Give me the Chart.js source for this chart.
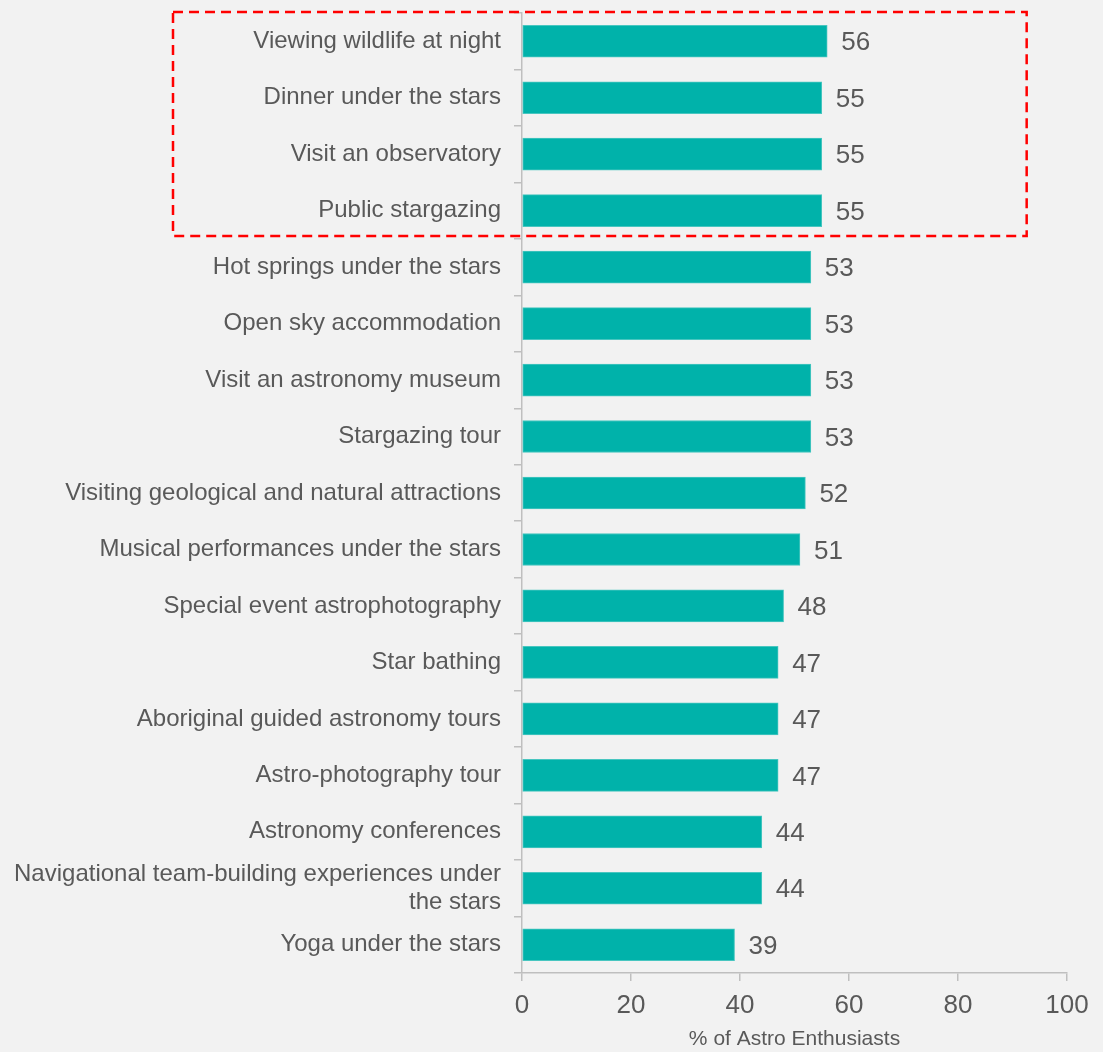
<!DOCTYPE html>
<html>
<head>
<meta charset="utf-8">
<title>Astro tourism activities</title>
<script src="https://cdn.jsdelivr.net/npm/chart.js@4.4.1/dist/chart.umd.min.js"></script>
<style>
  html, body { margin: 0; padding: 0; background: #f2f2f2; }
  #wrap { width: 1103px; height: 1052px; }
</style>
</head>
<body>
<div id="wrap"><canvas id="activityChart" width="1103" height="1052"></canvas></div>
<script>
const activities = [
  "Viewing wildlife at night",
  "Dinner under the stars",
  "Visit an observatory",
  "Public stargazing",
  "Hot springs under the stars",
  "Open sky accommodation",
  "Visit an astronomy museum",
  "Stargazing tour",
  "Visiting geological and natural attractions",
  "Musical performances under the stars",
  "Special event astrophotography",
  "Star bathing",
  "Aboriginal guided astronomy tours",
  "Astro-photography tour",
  "Astronomy conferences",
  ["Navigational team-building experiences under", "the stars"],
  "Yoga under the stars"
];
const shareOfEnthusiasts = [56, 55, 55, 55, 53, 53, 53, 53, 52, 51, 48, 47, 47, 47, 44, 44, 39];
const xTicks = [0, 20, 40, 60, 80, 100];

const textColor = "#595959";
const axisColor = "#bfbfbf";
const fontFamily = "'Liberation Sans', Arial, sans-serif";

// value labels to the right of each bar
const valueLabels = {
  id: "valueLabels",
  afterDatasetsDraw(chart) {
    const ctx = chart.ctx;
    const meta = chart.getDatasetMeta(0);
    ctx.save();
    ctx.font = "26px " + fontFamily;
    ctx.fillStyle = textColor;
    ctx.textAlign = "left";
    ctx.textBaseline = "middle";
    meta.data.forEach((bar, i) => {
      ctx.fillText(shareOfEnthusiasts[i], bar.x + 14, bar.y + 2);
    });
    ctx.restore();
  }
};

// dashed red box round the top four activities
const topBox = {
  id: "topBox",
  afterDraw(chart) {
    const ctx = chart.ctx;
    const x = chart.scales.x;
    const y = chart.scales.y;
    const top = y.getPixelForValue(-0.5) - 1;
    const bottom = y.getPixelForValue(3.5) - 3;
    const left = 173;
    const right = x.getPixelForValue(92.6);
    ctx.save();
    ctx.strokeStyle = "#ff0000";
    ctx.lineWidth = 2.5;
    ctx.setLineDash([10, 6]);
    ctx.strokeRect(left, top, right - left, bottom - top);
    ctx.restore();
  }
};

const ctx = document.getElementById("activityChart").getContext("2d");
const activityChart = new Chart(ctx, {
  type: "bar",
  data: {
    labels: activities,
    datasets: [
      {
        data: shareOfEnthusiasts,
        backgroundColor: "#00b2aa",
        borderColor: "#48c6c0",
        borderWidth: 1,
        borderSkipped: false,
        barThickness: 32,
      },
    ],
  },
  options: {
    indexAxis: "y",
    responsive: false,
    animation: false,
    layout: {
      padding: { top: 13, right: 36, left: 0, bottom: 0 },
    },
    scales: {
      x: {
        min: 0,
        max: 100,
        afterBuildTicks(scale) {
          scale.ticks = xTicks.map((v) => ({ value: v }));
        },
        afterFit(scale) {
          scale.height = 79;
        },
        border: { display: true, color: axisColor, width: 1.5 },
        grid: {
          drawOnChartArea: false,
          drawTicks: true,
          tickLength: 8,
          color: axisColor,
          lineWidth: 1.5,
        },
        ticks: {
          color: textColor,
          font: { family: fontFamily, size: 26 },
          padding: 9,
        },
        title: {
          display: true,
          text: "% of Astro Enthusiasts",
          color: textColor,
          font: { family: fontFamily, size: 21 },
          padding: { top: 4, bottom: 0 },
        },
      },
      y: {
        afterFit(scale) {
          scale.width = 522;
          // labels sit inside their bands, no extra room needed above/below
          scale.paddingTop = 0;
          scale.paddingBottom = 0;
        },
        border: { display: true, color: axisColor, width: 1.5 },
        grid: {
          offset: true,
          drawOnChartArea: false,
          tickLength: 8,
          color: axisColor,
          lineWidth: 1.5,
        },
        ticks: {
          autoSkip: false,
          color: textColor,
          font: { family: fontFamily, size: 24 },
          padding: 13,
        },
      },
    },
    plugins: {
      legend: { display: false },
      tooltip: { enabled: false },
    },
  },
  plugins: [valueLabels, topBox],
});
</script>
</body>
</html>
